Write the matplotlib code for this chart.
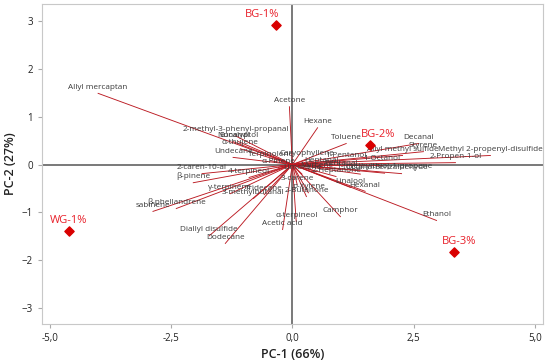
import numpy as np
import matplotlib.pyplot as plt

plt.rcParams['font.family'] = ['Open Sans', 'DejaVu Sans']

# loading vectors (PC-1, PC-2)
var_names = ['Allyl mercaptan', 'Acetone', 'Hexane', 'Toluene', 'Decanal', 'Styrene',
             'Allyl methyl sulfide', 'Methyl 2-propenyl-disulfide', '2-Propen-1-ol',
             '1-Octanol', '1-Pentanol', 'Caryophyllene', 'Terpinolene', 'Undecane',
             'α-thujene', 'Nonanal', 'Eucalyptol', '2-methyl-3-phenyl-propanal',
             '2-caren-10-al', 'β-pinene', '4-terpineol', 'α-Pinene', 'γ-terpinene',
             'Tridecane', '3-methylbutanal', 'sabinene', 'β-phellandrene',
             'Diallyl disulfide', 'Dodecane', 'Acetic acid', 'α-terpineol', '2-Butanone',
             'p-Xylene', '3-carene', 'Camphor', 'Linalool', 'Hexanal', 'Ethanol',
             'Heptanal', 'Pentanal', 'Benzaldehyde', '1-(methylthio)-1-propene',
             'Limonene', 'Myrcene', '2-Heptanone', 'Octanal']
var_pc1 = [-4.00, -0.06, 0.52, 1.11, 2.60, 2.70, 2.27, 4.08, 3.36, 1.84, 1.10, 0.30,
           -0.45, -1.22, -1.07, -1.22, -1.11, -1.17, -1.86, -2.04, -0.89, -0.29, -1.28,
           -0.58, -0.80, -2.87, -2.39, -1.71, -1.38, -0.20, 0.08, 0.29, 0.33, 0.10,
           0.99, 1.20, 1.50, 2.97, 0.60, 1.00, 2.25, 1.90, 0.20, 0.50, 0.90, 1.40]
var_pc2 = [1.49, 1.21, 0.77, 0.44, 0.44, 0.27, 0.19, 0.19, 0.04, 0.00, 0.06, 0.10,
           0.08, 0.15, 0.33, 0.48, 0.48, 0.60, -0.19, -0.38, -0.27, -0.06, -0.61,
           -0.63, -0.71, -0.98, -0.92, -1.49, -1.65, -1.36, -1.19, -0.67, -0.59, -0.42,
           -1.09, -0.48, -0.56, -1.17, -0.05, -0.10, -0.19, -0.18, -0.20, -0.15, -0.25,
           -0.20]

# sample scores
samples = ['BG-1%', 'BG-2%', 'BG-3%', 'WG-1%']
score_pc1 = [-0.33, 1.60, 3.32, -4.60]
score_pc2 = [2.91, 0.40, -1.84, -1.40]
label_dx = [-10, 6, 4, 0]

fig = plt.figure(figsize=(5.5, 3.63), dpi=100)
ax = fig.add_axes([0.076, 0.107, 0.911, 0.882])

ax.axhline(0, color='#6e6e6e', lw=1.3, zorder=1)
ax.axvline(0, color='#6e6e6e', lw=1.3, zorder=1)

for name, x, y in zip(var_names, var_pc1, var_pc2):
    ax.plot([0, x], [0, y], color='#bb1a22', lw=0.65, zorder=2)
    ax.annotate(name, xy=(x, y), xytext=(0, 2), textcoords='offset points',
                ha='center', va='bottom', fontsize=5.9, color='#3a3a3a', zorder=3)

ax.scatter(score_pc1, score_pc2, marker='D', s=22, color='#d90000', zorder=4)
for name, x, y, dx in zip(samples, score_pc1, score_pc2, label_dx):
    ax.annotate(name, xy=(x, y), xytext=(dx, 4), textcoords='offset points',
                ha='center', va='bottom', fontsize=8, color='#e8202a', zorder=5)

ax.set_xlim(-5.16, 5.16)
ax.set_ylim(-3.34, 3.36)
ax.set_xticks([-5, -2.5, 0, 2.5, 5])
ax.set_xticklabels(['-5,0', '-2,5', '0,0', '2,5', '5,0'])
ax.set_yticks([-3, -2, -1, 0, 1, 2, 3])
ax.tick_params(labelsize=7, length=3, color='#aaaaaa', labelcolor='#222222')
for s in ax.spines.values():
    s.set_color('#c8c8c8')
ax.set_xlabel('PC-1 (66%)', fontsize=9, color='#222222', labelpad=3, fontweight='semibold')
ax.set_ylabel('PC-2 (27%)', fontsize=9, color='#222222', labelpad=3, fontweight='semibold')

fig.savefig('out.png', dpi=100)
